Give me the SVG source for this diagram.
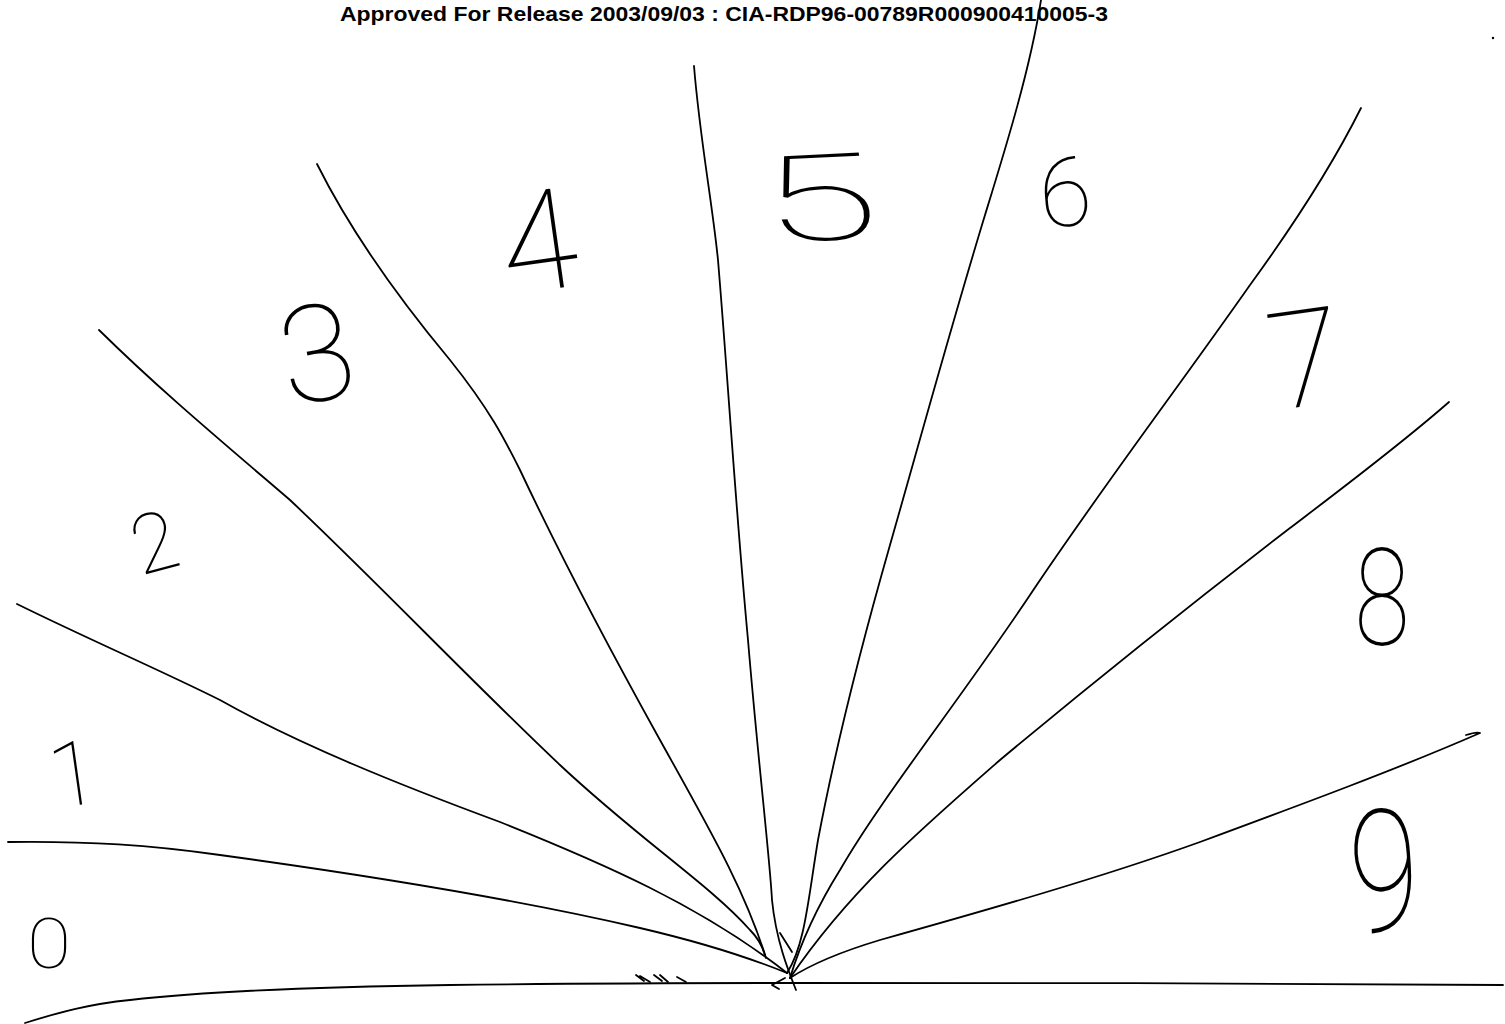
<svg xmlns="http://www.w3.org/2000/svg" width="1505" height="1024" viewBox="0 0 1505 1024">
<style>
.ray{fill:none;stroke:#000;stroke-width:1.8;stroke-linecap:round;stroke-linejoin:round}
.dig{font-family:Roboto,"Liberation Sans",sans-serif;font-weight:100;fill:#000;text-anchor:middle}
.hdr{font-family:"Liberation Sans",Arial,sans-serif;font-weight:bold;font-size:21px;fill:#000}
</style>
<rect width="1505" height="1024" fill="#fff"/>
<text class="hdr" x="340" y="21" textLength="768" lengthAdjust="spacingAndGlyphs">Approved For Release 2003/09/03 : CIA-RDP96-00789R000900410005-3</text>
<g id="connectors">
<path id="base" class="ray" d="M25,1023 C60,1012 90,1004 130,1000 C200,992 300,987 450,985 C600,983 700,983 790,983 C1000,983 1300,983 1503,985"/>
<path id="ray0" class="ray" d="M8,842 C90,841 150,845 220,855 C380,877 520,900 640,928 C700,942 750,958 787,973"/>
<path id="ray1" class="ray" d="M17,604 C90,640 160,670 220,700 C300,745 400,785 500,822 C600,862 700,905 787,973"/>
<path id="ray2" class="ray" d="M99,330 C160,390 220,440 290,500 C380,585 470,680 560,765 C640,840 710,885 750,930 C758,938 762,945 765,955"/>
<path id="ray3" class="ray" d="M317,164 C350,230 400,300 450,360 C490,410 505,440 520,470 C560,555 610,650 660,740 C710,830 745,890 766,958"/>
<path id="ray5" class="ray" d="M694,66 C700,140 712,200 718,260 C728,380 735,500 748,640 C758,760 770,860 772,900 C776,940 788,970 796,990"/>
<path id="ray6" class="ray" d="M1041,0 C1030,70 1005,150 985,215 C950,330 920,440 890,545 C860,650 835,750 818,840 C808,900 805,945 787,973"/>
<path id="ray7" class="ray" d="M1361,108 C1330,170 1290,230 1250,285 C1180,385 1100,490 1030,595 C960,700 880,800 840,870 C815,910 800,945 790,978"/>
<path id="ray8" class="ray" d="M1449,402 C1400,445 1340,490 1290,528 C1190,605 1090,685 1000,760 C920,830 850,890 790,978"/>
<path id="ray9" class="ray" d="M1466,735 C1472,733 1478,732 1480,733 C1400,768 1300,805 1200,842 C1100,878 980,912 880,940 C840,952 810,965 790,978"/>
<path class="ray" d="M780,933 L792,952"/>
<path class="ray" d="M785,978 L772,985 L779,989" stroke-width="1.2"/>
<path class="ray" d="M636,975 L644,981 M654,975 L662,981 M677,977 L686,982 M640,976 L650,982 M660,975 L668,982" stroke-width="1.4"/>
<circle cx="1493" cy="38" r="1.2" fill="#000"/>
</g>
<g id="label0"><text class="dig" transform="translate(49,968) scale(1.15,1)" font-size="70">0</text></g>
<g id="label1"><text class="dig" transform="translate(78,805) rotate(-8)" font-size="90">1</text></g>
<g id="label2"><text class="dig" transform="translate(162,570) rotate(-15)" font-size="82">2</text></g>
<g id="label3"><text class="dig" transform="translate(325,400) rotate(-10)" font-size="135">3</text></g>
<g id="label4"><text class="dig" transform="translate(545,290) rotate(-8)" font-size="140">4</text></g>
<g id="label5"><text class="dig" transform="translate(825,240) scale(1.8,1) rotate(-5)" font-size="120">5</text></g>
<g id="label6"><text class="dig" transform="translate(1068,226) rotate(-5)" font-size="96">6</text></g>
<g id="label7"><text class="dig" transform="translate(1312,405) rotate(-8)" font-size="135">7</text></g>
<g id="label8"><text class="dig" transform="translate(1382,645) scale(0.75,1)" font-size="135">8</text></g>
<g id="label9"><text class="dig" transform="translate(1388,930) scale(0.75,1) rotate(-5)" font-size="170">9</text></g>
</svg>
